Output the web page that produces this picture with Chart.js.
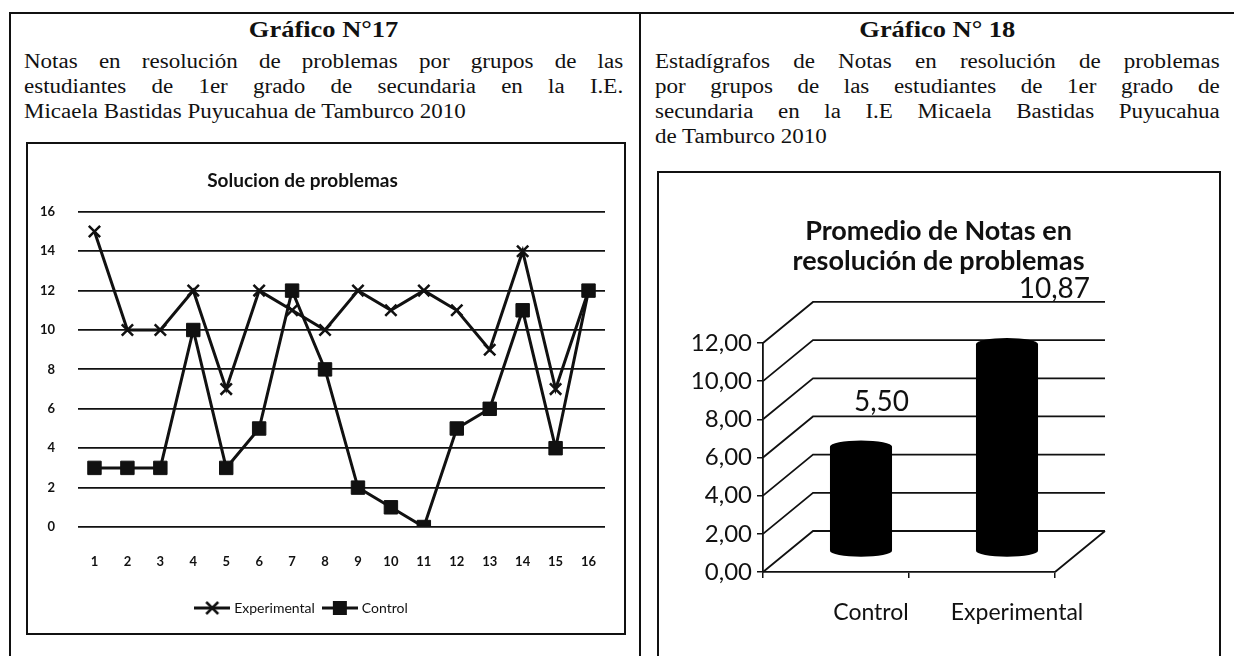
<!DOCTYPE html>
<html>
<head>
<meta charset="utf-8">
<script src="https://cdn.jsdelivr.net/npm/chart.js@4.4.1/dist/chart.umd.min.js"></script>
<style>
  body { margin: 0; width: 1234px; height: 656px; overflow: hidden; background: #fff; position: relative; }
  .rule { position: absolute; background: #111; }
  .box { position: absolute; box-sizing: border-box; border: 2px solid #111; background: #fff; }
  .txt { position: absolute; font-family: "Liberation Serif", "Times New Roman", serif; color: #111;
         transform: scaleX(1.15); transform-origin: left top; }
  .txt h2 { margin: 0; font-size: 23px; line-height: 28px; font-weight: bold; text-align: center; }
  .txt div { font-size: 20px; line-height: 25px; white-space: nowrap; }
  .txt div.j { text-align: justify; text-align-last: justify; white-space: normal; }
  canvas { position: absolute; }
</style>
</head>
<body>
<div class="rule" style="left:9px;top:12px;width:1225px;height:2px"></div>
<div class="rule" style="left:9px;top:12px;width:2px;height:644px"></div>
<div class="rule" style="left:639px;top:12px;width:2px;height:644px"></div>

<div class="txt" style="left:24px;top:16px;width:521px">
  <h2>Gráfico N°17</h2>
</div>
<div class="txt" style="left:24px;top:49px;width:521px">
  <div class="j">Notas en resolución de problemas por grupos de las</div>
  <div class="j">estudiantes de 1er grado de secundaria en la I.E.</div>
  <div>Micaela Bastidas Puyucahua de Tamburco 2010</div>
</div>

<div class="txt" style="left:655px;top:16px;width:491px">
  <h2>Gráfico N° 18</h2>
</div>
<div class="txt" style="left:655px;top:49px;width:491px">
  <div class="j">Estadígrafos de Notas en resolución de problemas</div>
  <div class="j">por grupos de las estudiantes de 1er grado de</div>
  <div class="j">secundaria en la I.E Micaela Bastidas Puyucahua</div>
  <div>de Tamburco 2010</div>
</div>

<div class="box" style="left:26px;top:142px;width:600px;height:493px"></div>
<div class="box" style="left:657px;top:171px;width:564px;height:520px"></div>

<canvas id="lineChart" width="621" height="489" style="left:0px;top:144px"></canvas>
<canvas id="barChart" width="559" height="483" style="left:659px;top:173px"></canvas>

<script>
// Grafico 17 -------- notas por estudiante
const students = ["1", "2", "3", "4", "5", "6", "7", "8", "9", "10", "11", "12", "13", "14", "15", "16"];
const experimental = [15, 10, 10, 12, 7, 12, 11, 10, 12, 11, 12, 11, 9, 14, 7, 12];
const control = [3, 3, 3, 10, 3, 5, 12, 8, 2, 1, 0, 5, 6, 11, 4, 12];

// Grafico 18 -------- promedios
const groups = ["Control", "Experimental"];
const means = [5.50, 10.87];

const ink = "#111";

function fmt(v) {
  return Number(v).toFixed(2).replace(".", ",");
}

// small legend marks: line with the point symbol on it
function legendMark(kind) {
  const c = document.createElement("canvas");
  c.width = 36;
  c.height = 16;
  const g = c.getContext("2d");
  g.strokeStyle = ink;
  g.fillStyle = ink;
  g.lineWidth = 3;
  g.beginPath();
  g.moveTo(0, 8);
  g.lineTo(36, 8);
  g.stroke();
  if (kind === "x") {
    g.lineWidth = 2.5;
    g.beginPath();
    g.moveTo(12, 2); g.lineTo(24, 14);
    g.moveTo(24, 2); g.lineTo(12, 14);
    g.stroke();
  } else {
    g.fillRect(11, 1, 14, 14);
  }
  return c;
}
const marks = [legendMark("x"), legendMark("sq")];

// drop the label overhang padding so the plot area is where we ask
function noSidePad(scale) {
  scale.paddingLeft = 0;
  scale.paddingRight = 0;
}

new Chart(document.getElementById("lineChart"), {
  type: "line",
  data: {
    labels: students,
    datasets: [
      {
        label: "Experimental",
        data: experimental,
        borderColor: ink,
        borderWidth: 3,
        pointStyle: "crossRot",
        pointRadius: 8,
        pointBorderWidth: 2.5,
        pointBorderColor: ink,
        pointBackgroundColor: ink,
        tension: 0
      },
      {
        label: "Control",
        data: control,
        borderColor: ink,
        borderWidth: 3,
        pointStyle: "rect",
        pointRadius: 9.5,
        pointBorderWidth: 1,
        pointBorderColor: ink,
        pointBackgroundColor: ink,
        tension: 0
      }
    ]
  },
  options: {
    animation: false,
    responsive: false,
    layout: { padding: { left: 0, right: 16, top: 0, bottom: 8 } },
    plugins: {
      tooltip: { enabled: false },
      title: {
        display: true,
        text: "Solucion de problemas",
        color: ink,
        font: { family: "Lato", size: 19, weight: "bold" },
        padding: { top: 25, bottom: 20 }
      },
      legend: {
        position: "bottom",
        labels: {
          usePointStyle: true,
          pointStyleWidth: 30,
          padding: 10,
          color: ink,
          font: { family: "Lato", size: 14 },
          generateLabels: function(chart) {
            return chart.data.datasets.map(function(d, i) {
              return {
                text: d.label,
                pointStyle: marks[i],
                fillStyle: ink,
                strokeStyle: ink,
                lineWidth: 0,
                fontColor: ink,
                hidden: false,
                datasetIndex: i
              };
            });
          }
        }
      }
    },
    scales: {
      x: {
        offset: true,
        grid: { display: false },
        border: { display: false },
        ticks: { color: ink, padding: 19, font: { family: "Lato", size: 13, weight: "bold" } },
        afterFit: function(scale) { scale.height = 64; noSidePad(scale); }
      },
      y: {
        min: 0,
        max: 16,
        ticks: { stepSize: 2, color: ink, padding: 23, font: { family: "Lato", size: 13, weight: "bold" } },
        grid: { color: ink, lineWidth: 1.8, drawTicks: false },
        border: { display: false },
        afterFit: function(scale) { scale.width = 78; }
      }
    }
  }
});

// 3D look for the bar chart: back wall, side wall, floor and cylinder caps
const depth = { dx: 50, dy: -41 };
const cylinder3d = {
  id: "cylinder3d",
  beforeDatasetsDraw(chart) {
    const { ctx, chartArea: a, scales: { y } } = chart;
    ctx.save();
    ctx.strokeStyle = ink;
    ctx.lineWidth = 1.8;
    ctx.beginPath();
    y.ticks.forEach(function(t) {
      const py = y.getPixelForValue(t.value);
      ctx.moveTo(a.left, py);
      ctx.lineTo(a.left + depth.dx, py + depth.dy);
      ctx.lineTo(a.right + depth.dx, py + depth.dy);
    });
    ctx.moveTo(a.right, a.bottom);
    ctx.lineTo(a.right + depth.dx, a.bottom + depth.dy);
    ctx.stroke();
    ctx.restore();
    // bars sit in the middle of the depth
    ctx.save();
    ctx.translate(depth.dx / 2, depth.dy / 2);
  },
  afterDatasetsDraw(chart) {
    const ctx = chart.ctx;
    const bars = chart.getDatasetMeta(0).data;
    const vals = chart.data.datasets[0].data;
    ctx.fillStyle = "#000";
    bars.forEach(function(bar) {
      ctx.beginPath();
      ctx.ellipse(bar.x, bar.y, bar.width / 2, 6, 0, 0, 2 * Math.PI);
      ctx.fill();
      ctx.beginPath();
      ctx.ellipse(bar.x, bar.base, bar.width / 2, 6, 0, 0, 2 * Math.PI);
      ctx.fill();
    });
    ctx.restore();
    // value labels float above the back of the bar (perspective pushes taller ones further)
    ctx.save();
    ctx.font = "28px Lato";
    ctx.fillStyle = ink;
    ctx.textAlign = "center";
    ctx.textBaseline = "middle";
    bars.forEach(function(bar, i) {
      const v = vals[i];
      ctx.fillText(fmt(v), bar.x + 18 + v * 5, bar.y - 53 - v * 2.1);
    });
    ctx.restore();
  }
};

new Chart(document.getElementById("barChart"), {
  type: "bar",
  data: {
    labels: groups,
    datasets: [
      {
        data: means,
        backgroundColor: "#000",
        borderWidth: 0,
        barPercentage: 0.425,
        categoryPercentage: 1,
        clip: false
      }
    ]
  },
  options: {
    animation: false,
    responsive: false,
    layout: { padding: { left: 0, right: 0, top: 0, bottom: 24 } },
    plugins: {
      tooltip: { enabled: false },
      legend: { display: false },
      title: {
        display: true,
        text: ["Promedio de Notas en", "resolución de problemas"],
        color: ink,
        font: { family: "Lato", size: 27, weight: "bold", lineHeight: 1.11 },
        padding: { top: 43, bottom: 67 }
      }
    },
    scales: {
      x: {
        grid: { drawOnChartArea: false, tickLength: 6, color: ink, lineWidth: 1.5 },
        border: { color: ink, width: 1.8 },
        ticks: { color: ink, padding: 21, labelOffset: 35, font: { family: "Lato", size: 23 } },
        afterFit: function(scale) { scale.height = 60; noSidePad(scale); }
      },
      y: {
        min: 0,
        max: 12,
        ticks: { stepSize: 2, color: ink, padding: 5, font: { family: "Lato", size: 24 }, callback: function(v) { return fmt(v); } },
        grid: { drawOnChartArea: false, tickLength: 6, color: ink, lineWidth: 1.5 },
        border: { color: ink, width: 1.8 },
        afterFit: function(scale) { scale.width = 104; }
      },
      // empty right-hand axis keeps room for the depth of the 3D box
      depthRoom: {
        position: "right",
        display: true,
        ticks: { display: false },
        grid: { display: false },
        border: { display: false },
        afterFit: function(scale) { scale.width = 163; }
      }
    }
  },
  plugins: [cylinder3d]
});
</script>
</body>
</html>
